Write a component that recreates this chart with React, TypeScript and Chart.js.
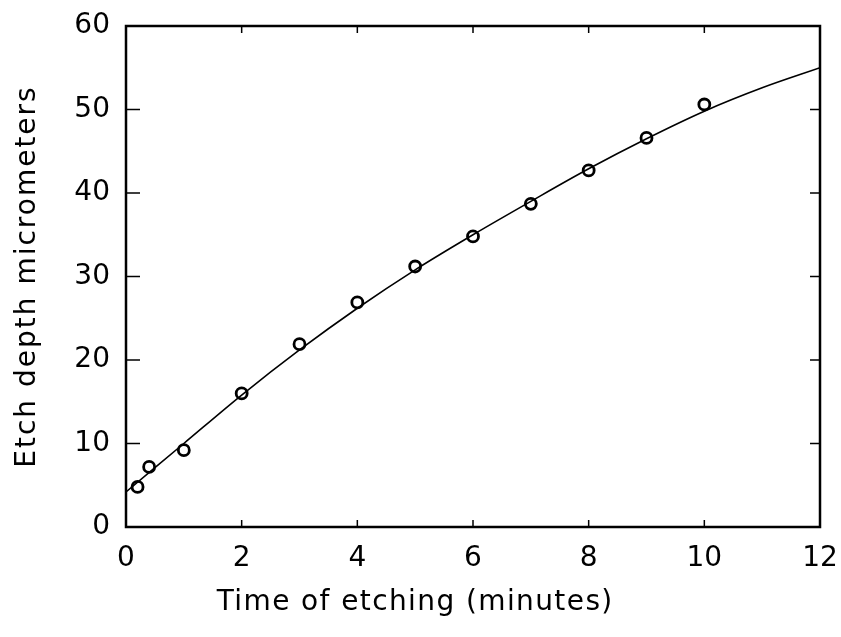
import React, { useEffect, useRef } from 'react';
import { Chart, registerables } from 'chart.js';

Chart.register(...registerables);

const xTickValues = [0, 2, 4, 6, 8, 10, 12];
const yTickValues = [0, 10, 20, 30, 40, 50, 60];
const measuredTime = [0.2, 0.4, 1, 2, 3, 4, 5, 6, 7, 8, 9, 10];
const measuredDepth = [4.8, 7.2, 9.2, 16.0, 21.9, 26.9, 31.2, 34.8, 38.7, 42.7, 46.6, 50.6];
const fitTime = [0, 1, 2, 3, 4, 5, 6, 7, 8, 9, 10, 11, 12];
const fitDepth = [4.2, 10.0, 15.8, 21.2, 26.2, 30.8, 35.0, 39.0, 42.9, 46.5, 49.8, 52.6, 55.0];
const xTitle = 'Time of etching (minutes)';
const yTitle = 'Etch depth micrometers';

const FONT = "'DejaVu Sans', sans-serif";

const framePlugin = {
  id: 'frame',
  afterDraw(chart: any) {
    const { ctx, chartArea, scales } = chart;
    const { left, top, right, bottom } = chartArea;
    const x = scales.x;
    const y = scales.y;
    ctx.save();
    ctx.strokeStyle = '#000';
    ctx.lineWidth = 2.5;
    ctx.strokeRect(left, top, right - left, bottom - top);
    ctx.lineWidth = 1.5;
    ctx.beginPath();
    yTickValues.slice(1, -1).forEach((v) => {
      const py = y.getPixelForValue(v);
      ctx.moveTo(left, py);
      ctx.lineTo(left + 14, py);
      ctx.moveTo(right, py);
      ctx.lineTo(right - 10, py);
    });
    xTickValues.slice(1, -1).forEach((v) => {
      const px = x.getPixelForValue(v);
      ctx.moveTo(px, bottom);
      ctx.lineTo(px, bottom - 7);
      ctx.moveTo(px, top);
      ctx.lineTo(px, top + 7);
    });
    ctx.stroke();
    ctx.fillStyle = '#000';
    ctx.font = `28px ${FONT}`;
    ctx.textAlign = 'center';
    ctx.textBaseline = 'middle';
    (ctx as any).letterSpacing = '1.4px';
    ctx.fillText(xTitle, x.getPixelForValue(5), bottom + 76);
    (ctx as any).letterSpacing = '2px';
    ctx.translate(28, (top + bottom) / 2);
    ctx.rotate(-Math.PI / 2);
    ctx.fillText(yTitle, 0, 0);
    ctx.restore();
  },
};

export default function App() {
  const ref = useRef<HTMLCanvasElement | null>(null);
  useEffect(() => {
    document.body.style.margin = '0';
    const canvas = ref.current!;
    const chart = new Chart(canvas, {
      type: 'scatter',
      data: {
        datasets: [
          {
            type: 'line',
            data: fitTime.map((t, i) => ({ x: t, y: fitDepth[i] })),
            borderColor: '#000',
            borderWidth: 1.6,
            pointRadius: 0,
            tension: 0.4,
            cubicInterpolationMode: 'monotone',
            fill: false,
          } as any,
          {
            type: 'scatter',
            data: measuredTime.map((t, i) => ({ x: t, y: measuredDepth[i] })),
            pointStyle: 'circle',
            pointRadius: 5.5,
            pointBorderWidth: 2.8,
            borderColor: '#000',
            backgroundColor: '#fff',
            pointBackgroundColor: '#fff',
            pointBorderColor: '#000',
          } as any,
        ],
      },
      options: {
        responsive: false,
        animation: false,
        layout: { padding: { top: 26, right: 21, left: 0, bottom: 0 } },
        plugins: { legend: { display: false }, tooltip: { enabled: false } },
        scales: {
          x: {
            type: 'linear',
            min: 0,
            max: 12,
            afterFit: (s: any) => { s.height = 110; s.paddingLeft = 0; s.paddingRight = 0; },
            afterBuildTicks: (s: any) => { s.ticks = xTickValues.map((v) => ({ value: v })); },
            ticks: { color: '#000', padding: 15, font: { family: FONT, size: 28 } },
            grid: { display: false, drawTicks: false },
            border: { display: false },
          },
          y: {
            type: 'linear',
            min: 0,
            max: 60,
            afterFit: (s: any) => { s.width = 126; s.paddingTop = 0; s.paddingBottom = 0; },
            afterBuildTicks: (s: any) => { s.ticks = yTickValues.map((v) => ({ value: v })); },
            ticks: { color: '#000', padding: 16, font: { family: FONT, size: 28 } },
            grid: { display: false, drawTicks: false },
            border: { display: false },
          },
        },
      },
      plugins: [framePlugin],
    });
    return () => chart.destroy();
  }, []);
  return (
    <div style={{ width: 841, height: 637 }}>
      <canvas ref={ref} width={841} height={637} />
    </div>
  );
}
